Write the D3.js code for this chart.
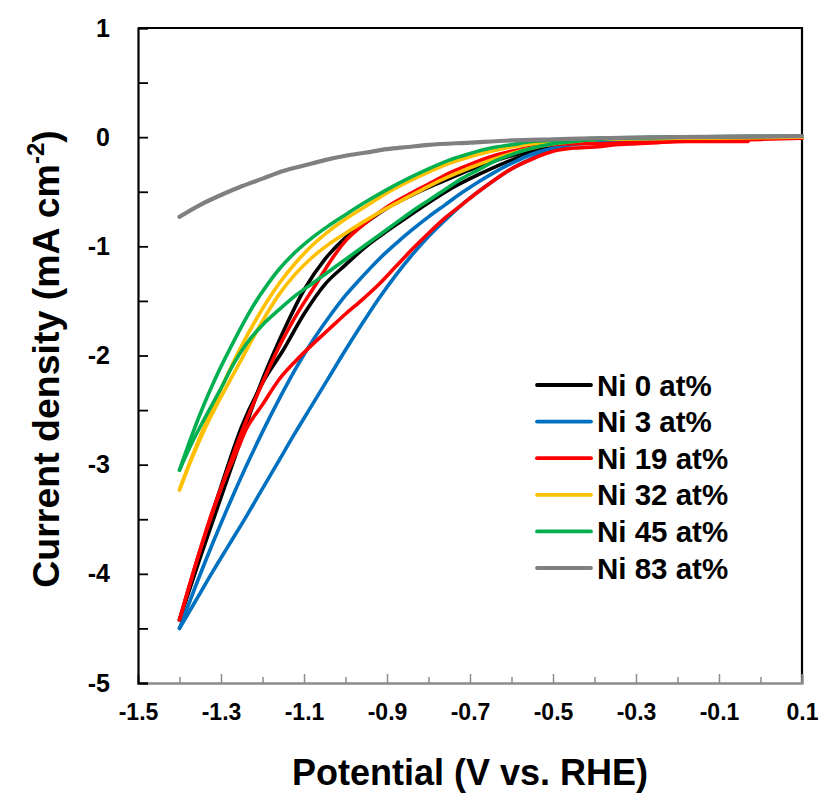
<!DOCTYPE html>
<html><head><meta charset="utf-8">
<script src="https://cdn.jsdelivr.net/npm/d3@7"></script>
<style>
html,body{margin:0;padding:0;background:#fff;}
svg{display:block;font-family:Arial,"Liberation Sans",sans-serif;font-weight:bold;}
</style></head>
<body>
<svg id="chart" width="827" height="796"></svg>
<script>
// ---- data ----
const seriesNames = ["Ni 0 at%","Ni 3 at%","Ni 19 at%","Ni 32 at%","Ni 45 at%","Ni 83 at%"];
const seriesColors = ["#000000","#0070C0","#FF0000","#FFC000","#00B050","#808080"];
const xTickValues = [-1.5,-1.3,-1.1,-0.9,-0.7,-0.5,-0.3,-0.1,0.1];
const yTickValues = [1,0,-1,-2,-3,-4,-5];

const ni0SweepA = [[-1.40,-4.42],[-1.35,-3.85],[-1.30,-3.30],[-1.25,-2.75],[-1.20,-2.22],[-1.17,-1.95],[-1.14,-1.70],[-1.10,-1.40],[-1.05,-1.12],[-1.00,-0.92],[-0.95,-0.78],[-0.90,-0.65],[-0.85,-0.55],[-0.80,-0.46],[-0.75,-0.38],[-0.70,-0.30],[-0.65,-0.23],[-0.60,-0.17],[-0.55,-0.12],[-0.50,-0.08],[-0.45,-0.05],[-0.40,-0.03],[-0.30,-0.01],[-0.10,0.00],[0.10,0.00]];
const ni0SweepB = [[-1.40,-4.42],[-1.35,-3.80],[-1.30,-3.20],[-1.25,-2.65],[-1.20,-2.25],[-1.15,-1.95],[-1.10,-1.62],[-1.05,-1.35],[-1.00,-1.17],[-0.95,-1.00],[-0.90,-0.86],[-0.85,-0.73],[-0.80,-0.60],[-0.75,-0.48],[-0.70,-0.38],[-0.65,-0.29],[-0.60,-0.21],[-0.55,-0.14],[-0.50,-0.09],[-0.45,-0.05],[-0.40,-0.03],[-0.30,-0.01],[-0.10,0.00],[0.10,0.00]];

const ni3SweepA = [[-1.40,-4.50],[-1.36,-4.10],[-1.32,-3.72],[-1.28,-3.36],[-1.24,-3.02],[-1.20,-2.70],[-1.16,-2.40],[-1.12,-2.12],[-1.08,-1.87],[-1.04,-1.65],[-1.00,-1.45],[-0.96,-1.28],[-0.92,-1.12],[-0.88,-0.98],[-0.84,-0.85],[-0.80,-0.73],[-0.76,-0.62],[-0.72,-0.51],[-0.68,-0.41],[-0.64,-0.32],[-0.60,-0.24],[-0.56,-0.17],[-0.52,-0.12],[-0.48,-0.08],[-0.44,-0.06],[-0.40,-0.05],[-0.30,-0.03],[-0.20,-0.02],[0.10,0.00]];
const ni3SweepB = [[-1.40,-4.50],[-1.36,-4.24],[-1.32,-3.98],[-1.28,-3.73],[-1.24,-3.48],[-1.20,-3.22],[-1.16,-2.96],[-1.12,-2.70],[-1.08,-2.45],[-1.04,-2.20],[-1.00,-1.95],[-0.96,-1.71],[-0.92,-1.48],[-0.88,-1.27],[-0.84,-1.08],[-0.80,-0.91],[-0.76,-0.76],[-0.72,-0.62],[-0.68,-0.50],[-0.64,-0.39],[-0.60,-0.29],[-0.56,-0.21],[-0.52,-0.14],[-0.48,-0.09],[-0.44,-0.06],[-0.40,-0.05],[-0.30,-0.03],[-0.20,-0.02],[0.10,0.00]];

const ni19SweepA = [[-1.40,-4.42],[-1.35,-3.78],[-1.30,-3.22],[-1.25,-2.70],[-1.20,-2.25],[-1.16,-1.92],[-1.12,-1.64],[-1.07,-1.34],[-1.03,-1.10],[-1.00,-0.95],[-0.95,-0.78],[-0.90,-0.64],[-0.85,-0.53],[-0.80,-0.43],[-0.75,-0.33],[-0.70,-0.25],[-0.65,-0.18],[-0.60,-0.13],[-0.55,-0.09],[-0.50,-0.07],[-0.45,-0.06],[-0.40,-0.06],[-0.30,-0.05],[-0.20,-0.04],[-0.10,-0.04],[-0.03,-0.04]];
const ni19SweepB = [[-1.40,-4.42],[-1.36,-3.90],[-1.32,-3.42],[-1.29,-3.12],[-1.26,-2.86],[-1.24,-2.68],[-1.20,-2.45],[-1.16,-2.22],[-1.12,-2.05],[-1.08,-1.90],[-1.04,-1.76],[-1.00,-1.62],[-0.96,-1.49],[-0.92,-1.35],[-0.88,-1.19],[-0.84,-1.03],[-0.80,-0.88],[-0.76,-0.74],[-0.72,-0.62],[-0.68,-0.50],[-0.64,-0.39],[-0.60,-0.29],[-0.55,-0.20],[-0.50,-0.13],[-0.45,-0.10],[-0.40,-0.09],[-0.35,-0.07],[-0.30,-0.06],[-0.25,-0.05],[-0.20,-0.04],[-0.10,-0.03],[0.00,-0.02],[0.10,-0.01]];

const ni32SweepA = [[-1.40,-3.23],[-1.37,-2.93],[-1.34,-2.65],[-1.31,-2.39],[-1.28,-2.14],[-1.25,-1.91],[-1.22,-1.70],[-1.19,-1.51],[-1.16,-1.34],[-1.12,-1.15],[-1.08,-0.99],[-1.04,-0.86],[-1.00,-0.75],[-0.95,-0.63],[-0.90,-0.51],[-0.85,-0.41],[-0.80,-0.32],[-0.75,-0.24],[-0.70,-0.18],[-0.65,-0.13],[-0.60,-0.09],[-0.55,-0.06],[-0.50,-0.04],[-0.40,-0.02],[-0.20,-0.01],[0.10,0.00]];
const ni32SweepB = [[-1.40,-3.23],[-1.37,-2.94],[-1.34,-2.68],[-1.31,-2.45],[-1.28,-2.24],[-1.25,-2.03],[-1.22,-1.82],[-1.19,-1.62],[-1.16,-1.44],[-1.12,-1.25],[-1.08,-1.10],[-1.04,-0.98],[-1.00,-0.88],[-0.95,-0.76],[-0.90,-0.65],[-0.85,-0.55],[-0.80,-0.45],[-0.75,-0.36],[-0.70,-0.28],[-0.65,-0.21],[-0.60,-0.15],[-0.55,-0.10],[-0.50,-0.06],[-0.45,-0.04],[-0.40,-0.02],[-0.20,-0.01],[0.10,0.00]];

const ni45SweepA = [[-1.40,-3.05],[-1.37,-2.73],[-1.34,-2.44],[-1.31,-2.18],[-1.28,-1.95],[-1.25,-1.73],[-1.22,-1.53],[-1.19,-1.36],[-1.16,-1.21],[-1.12,-1.05],[-1.08,-0.92],[-1.04,-0.81],[-1.00,-0.71],[-0.95,-0.59],[-0.90,-0.48],[-0.85,-0.38],[-0.80,-0.29],[-0.75,-0.21],[-0.70,-0.15],[-0.65,-0.10],[-0.60,-0.07],[-0.55,-0.04],[-0.50,-0.03],[-0.40,-0.01],[-0.20,0.00],[0.10,0.01]];
const ni45SweepB = [[-1.40,-3.05],[-1.37,-2.80],[-1.34,-2.58],[-1.30,-2.30],[-1.27,-2.08],[-1.24,-1.90],[-1.20,-1.72],[-1.16,-1.58],[-1.12,-1.45],[-1.08,-1.34],[-1.04,-1.23],[-1.00,-1.12],[-0.96,-1.01],[-0.92,-0.90],[-0.88,-0.79],[-0.84,-0.68],[-0.80,-0.58],[-0.76,-0.48],[-0.72,-0.38],[-0.68,-0.30],[-0.64,-0.22],[-0.60,-0.16],[-0.55,-0.10],[-0.50,-0.06],[-0.45,-0.04],[-0.40,-0.02],[-0.20,0.00],[0.10,0.01]];

const ni83Sweep = [[-1.40,-0.73],[-1.35,-0.62],[-1.30,-0.53],[-1.25,-0.45],[-1.20,-0.38],[-1.15,-0.31],[-1.10,-0.26],[-1.05,-0.21],[-1.00,-0.17],[-0.95,-0.14],[-0.90,-0.11],[-0.85,-0.09],[-0.80,-0.07],[-0.70,-0.05],[-0.60,-0.03],[-0.50,-0.02],[-0.40,-0.01],[-0.20,0.00],[0.10,0.01]];

const seriesSweeps = [
  [ni0SweepA, ni0SweepB],
  [ni3SweepA, ni3SweepB],
  [ni19SweepA, ni19SweepB],
  [ni32SweepA, ni32SweepB],
  [ni45SweepA, ni45SweepB],
  [ni83Sweep]
];

(function draw() {
  const pL = 138, pR = 802, pT = 28, pB = 683;
  const svg = d3.select("#chart");
  const x = d3.scaleLinear().domain([-1.5, 0.1]).range([pL, pR]);
  const y = d3.scaleLinear().domain([-5, 1]).range([pB, pT]);
  const FONT = "Arial, 'Liberation Sans', sans-serif";

  // plot frame (top & right)
  svg.append("path")
    .attr("d", `M${pL},${pT}H${pR}V${pB}`)
    .attr("fill","none").attr("stroke","#000").attr("stroke-width",2.2);

  // curves
  const line = d3.line().x(d => x(d[0])).y(d => y(d[1])).curve(d3.curveMonotoneX);
  const curves = svg.append("g");
  seriesSweeps.forEach((sweeps, i) => {
    sweeps.forEach(s => {
      curves.append("path").datum(s)
        .attr("d", line)
        .attr("fill","none")
        .attr("stroke", seriesColors[i])
        .attr("stroke-width", i === 5 ? 4.2 : 3.6)
        .attr("stroke-linejoin","round")
        .attr("stroke-linecap","round");
    });
  });

  // x axis (gray), ticks inward
  const xMinor = d3.range(-1.4, 0.1, 0.2).map(v => +v.toFixed(1));
  const gxMinor = svg.append("g").attr("transform",`translate(0,${pB})`)
    .call(d3.axisBottom(x).tickValues(xMinor).tickSize(-6).tickFormat(""));
  const gx = svg.append("g").attr("transform",`translate(0,${pB})`)
    .call(d3.axisBottom(x).tickValues(xTickValues).tickSize(-9).tickPadding(21).tickFormat(d => d.toFixed(1)));
  [gx, gxMinor].forEach(g => {
    g.select(".domain").attr("stroke","#8c8c8c").attr("stroke-width",2);
    g.selectAll(".tick line").attr("stroke","#8c8c8c").attr("stroke-width",1.5);
  });
  gx.selectAll("text").attr("font-size",23).attr("font-weight","bold").attr("fill","#000")
    .attr("font-family", FONT);

  // y axis (black), ticks inward every 0.5
  const yAll = d3.range(-5, 1.01, 0.5);
  const gy = svg.append("g").attr("transform",`translate(${pL},0)`)
    .call(d3.axisLeft(y).tickValues(yAll).tickSize(-10).tickPadding(28)
      .tickFormat(d => Number.isInteger(d) && yTickValues.includes(d) ? String(d) : ""));
  gy.select(".domain").attr("stroke","#000").attr("stroke-width",2.2);
  gy.selectAll(".tick line").attr("stroke","#000").attr("stroke-width",1.8);
  gy.selectAll("text").attr("font-size",25).attr("font-weight","bold").attr("fill","#000")
    .attr("font-family", FONT);

  // axis titles
  svg.append("text").attr("x", 470).attr("y", 785).attr("text-anchor","middle")
    .attr("font-size",36).attr("font-weight","bold").text("Potential (V vs. RHE)");
  const yt = svg.append("text").attr("transform","translate(59,359) rotate(-90)")
    .attr("text-anchor","middle").attr("font-size",37.5).attr("font-weight","bold");
  yt.append("tspan").text("Current density (mA cm");
  yt.append("tspan").attr("font-size",24).attr("dy",-15).text("-2");
  yt.append("tspan").attr("dy",15).text(")");

  // legend
  const leg = svg.append("g");
  seriesNames.forEach((name, i) => {
    const ly = 385 + i * 36.6;
    leg.append("line").attr("x1",537).attr("x2",591).attr("y1",ly).attr("y2",ly)
      .attr("stroke", seriesColors[i]).attr("stroke-width",3.8).attr("stroke-linecap","round");
    leg.append("text").attr("x",597).attr("y",ly).attr("dy","0.36em")
      .attr("font-size",29.5).attr("font-weight","bold").text(name);
  });
})();
</script>
</body></html>
